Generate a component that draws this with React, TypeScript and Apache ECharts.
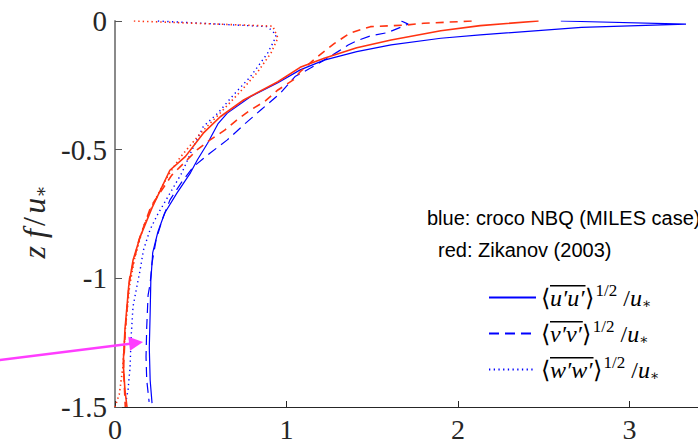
import React, { useEffect, useRef } from 'react';
import * as echarts from 'echarts';

// croco NBQ (blue)
const crocoUz = [0, -0.012, -0.025, -0.054, -0.067, -0.093, -0.119, -0.152, -0.19, -0.24, -0.294, -0.358, -0.4, -0.475, -0.54, -0.59, -0.67, -0.746, -0.82, -0.9, -0.94, -1.007, -1.135, -1.27, -1.395, -1.485];
const crocoU = [2.6, 3.33, 2.72, 2.13, 1.9, 1.61, 1.41, 1.22, 1.08, 0.95, 0.79, 0.655, 0.6, 0.54, 0.48, 0.44, 0.36, 0.29, 0.25, 0.22, 0.216, 0.209, 0.205, 0.2, 0.205, 0.216];
const crocoVz = [0, -0.012, -0.023, -0.045, -0.058, -0.077, -0.093, -0.119, -0.152, -0.183, -0.216, -0.28, -0.346, -0.404, -0.462, -0.513, -0.567, -0.625, -0.696, -0.773, -0.85, -0.94, -1.02, -1.065, -1.19, -1.305, -1.395, -1.48];
const crocoV = [1.67, 1.71, 1.67, 1.59, 1.49, 1.41, 1.36, 1.3, 1.22, 1.14, 1.05, 0.965, 0.85, 0.75, 0.655, 0.555, 0.456, 0.39, 0.32, 0.275, 0.24, 0.216, 0.205, 0.193, 0.185, 0.181, 0.185, 0.199];
const crocoWz = [0, -0.022, -0.054, -0.08, -0.125, -0.216, -0.288, -0.358, -0.41, -0.5, -0.59, -0.67, -0.75, -0.81, -0.89, -0.97, -1.03, -1.11, -1.228, -1.345, -1.434, -1.5];
const crocoW = [0.25, 0.89, 0.94, 0.925, 0.89, 0.79, 0.69, 0.6, 0.515, 0.45, 0.39, 0.32, 0.25, 0.205, 0.166, 0.146, 0.128, 0.105, 0.094, 0.088, 0.076, 0.058];

// Zikanov (2003) (red)
const zikUz = [0, -0.018, -0.038, -0.074, -0.104, -0.145, -0.18, -0.236, -0.307, -0.372, -0.436, -0.527, -0.58, -0.727, -0.84, -0.93, -1.03, -1.2, -1.33, -1.434, -1.5];
const zikU = [2.47, 2.13, 1.9, 1.61, 1.41, 1.22, 1.08, 0.95, 0.75, 0.614, 0.515, 0.41, 0.32, 0.215, 0.146, 0.105, 0.08, 0.058, 0.048, 0.058, 0.07];
const zikVz = [0, -0.009, -0.016, -0.022, -0.047, -0.087, -0.139, -0.197, -0.229, -0.268, -0.314, -0.346, -0.385, -0.424, -0.462, -0.5, -0.54, -0.6, -0.72, -0.85, -1.0, -1.2, -1.35, -1.5];
const zikV = [2.08, 1.8, 1.69, 1.49, 1.37, 1.28, 1.18, 1.08, 1.04, 0.95, 0.87, 0.79, 0.71, 0.64, 0.555, 0.48, 0.42, 0.33, 0.21, 0.14, 0.085, 0.06, 0.05, 0.06];
const zikWz = [0, -0.02, -0.066, -0.124, -0.2, -0.275, -0.36, -0.435, -0.53, -0.6, -0.7, -0.8, -0.92, -1.03, -1.2, -1.35, -1.45, -1.5];
const zikW = [0.11, 0.92, 0.95, 0.91, 0.83, 0.73, 0.61, 0.5, 0.38, 0.31, 0.23, 0.165, 0.115, 0.085, 0.06, 0.045, 0.025, 0.0];

// annotation arrow (data coordinates)
const arrowX = [-0.789, 0.123];
const arrowZ = [-1.327, -1.251];

const yMin = -1.5;
const yMax = 0;
const yStep = 0.5;
const xMin = 0;
const xMax = 3.4;
const xStep = 1;

const legendNames = ['u', 'v', 'w'];
const noteLines = ['blue: croco NBQ (MILES case)', 'red: Zikanov (2003)'];

const BLUE = '#0000ff';
const RED = '#ff3311';
const MATH = 'Liberation Serif';

const pairs = (xs: number[], zs: number[]) => xs.map((x, i) => [x, zs[i]]);
const PRIME = '\u2032';
const corr = (c: string) => c + PRIME + c + PRIME;

function measure(text: string, font: string): number {
  const cv = document.createElement('canvas');
  const ctx = cv.getContext('2d');
  if (!ctx) return text.length * 12;
  ctx.font = font;
  return ctx.measureText(text).width;
}

export default function App() {
  const ref = useRef<HTMLDivElement>(null);
  useEffect(() => {
    if (!ref.current) return;
    const chart = echarts.init(ref.current, undefined, { renderer: 'svg' });
    const lineS = (name: string, xs: number[], zs: number[], color: string, type: any, width: number) => ({
      name,
      type: 'line',
      data: pairs(xs, zs),
      showSymbol: false,
      symbol: 'none',
      clip: true,
      lineStyle: { color, width, type, cap: 'butt' },
      itemStyle: { color },
      emphasis: { disabled: true },
    });

    const legendLeft = 488;
    const legendIconW = 47;
    const rowCenters = [300, 336, 372];
    const rowH = 36;
    const textLeft = legendLeft + legendIconW + 5;
    const richLegend = {
      a: { fontFamily: MATH, fontSize: 24, color: '#000', lineHeight: rowH },
      i: { fontFamily: MATH, fontStyle: 'italic', fontSize: 24, color: '#000', lineHeight: rowH },
      s: { fontFamily: MATH, fontSize: 17, color: '#000', lineHeight: 20, padding: [0, 0, 14, 2] },
      b: { fontFamily: 'DejaVu Serif', fontSize: 14, color: '#000', lineHeight: 16, padding: [10, 0, 0, 0] },
    };
    const legends = legendNames.map((n, k) => ({
      data: [n],
      orient: 'vertical',
      left: legendLeft,
      top: rowCenters[k] - rowH / 2,
      padding: 0,
      itemGap: 0,
      itemWidth: legendIconW,
      itemHeight: 14,
      selectedMode: false,
      itemStyle: { opacity: 0 },
      formatter: (name: string) =>
        '{a|\u27E8}{i|' + corr(name) + '}{a|\u27E9}{s|1/2}{a| /}{i|u}{b|\u2217}',
      textStyle: { rich: richLegend },
    }));
    const wOpen = measure('\u27E8', `24px "${MATH}"`);
    const overlines = legendNames.map((n, k) => ({
      type: 'rect',
      silent: true,
      shape: {
        x: textLeft + wOpen + 1,
        y: rowCenters[k] - 15,
        width: measure(corr(n), `italic 24px "${MATH}"`) + 1,
        height: 1.6,
      },
      style: { fill: '#000' },
    }));

    chart.setOption({
      animation: false,
      backgroundColor: '#ffffff',
      grid: { left: 115, top: 21, bottom: 38, right: 0, containLabel: false, outerBoundsMode: 'none' },
      xAxis: {
        type: 'value',
        min: xMin,
        max: xMax,
        interval: xStep,
        splitLine: { show: false },
        axisLine: { onZero: false, lineStyle: { color: '#262626', width: 1 } },
        axisTick: { inside: true, length: 6, lineStyle: { color: '#262626' } },
        axisLabel: {
          color: '#262626', fontFamily: MATH, fontSize: 28, lineHeight: 26, margin: 9,
          showMaxLabel: false, hideOverlap: false,
        },
      },
      yAxis: {
        type: 'value',
        min: yMin,
        max: yMax,
        interval: yStep,
        splitLine: { show: false },
        axisLine: { onZero: false, lineStyle: { color: '#8a8a8a', width: 2 } },
        axisTick: { inside: true, length: 7, lineStyle: { color: '#555' } },
        axisLabel: { color: '#262626', fontFamily: MATH, fontSize: 29, margin: 8, hideOverlap: false },
        name: '{it|z f} {n|/} {it|u}{sub|\u2217}',
        nameLocation: 'middle',
        nameGap: 60,
        nameRotate: 90,
        nameTextStyle: {
          padding: [0, 16, 0, 0],
          rich: {
            it: { fontFamily: MATH, fontStyle: 'italic', fontSize: 32, color: '#262626' },
            n: { fontFamily: MATH, fontSize: 32, color: '#262626' },
            sub: { fontFamily: 'DejaVu Serif', fontSize: 18, color: '#262626', padding: [12, 0, 0, 0] },
          },
        },
      },
      legend: legends,
      graphic: [
        {
          type: 'text',
          left: 427,
          top: 208,
          style: { text: noteLines[0], font: '20px "Liberation Sans", Arial, sans-serif', fill: '#000' },
        },
        {
          type: 'text',
          left: 438,
          top: 240,
          style: { text: noteLines[1], font: '20px "Liberation Sans", Arial, sans-serif', fill: '#000' },
        },
        ...overlines,
      ],
      series: [
        lineS('u', crocoU, crocoUz, BLUE, 'solid', 1.2),
        lineS('v', crocoV, crocoVz, BLUE, [10, 6], 1.2),
        lineS('w', crocoW, crocoWz, BLUE, [1.3, 3.4], 1.4),
        lineS('Zikanov u', zikU, zikUz, RED, 'solid', 1.6),
        lineS('Zikanov v', zikV, zikVz, RED, [8, 6], 1.6),
        lineS('Zikanov w', zikW, zikWz, RED, [1.4, 3], 1.6),
        {
          type: 'lines',
          coordinateSystem: 'cartesian2d',
          clip: false,
          silent: true,
          z: 5,
          symbol: ['none', 'triangle'],
          symbolSize: 14,
          lineStyle: { color: '#ff3dff', width: 2.5, opacity: 1, curveness: 0 },
          data: [{ coords: [[arrowX[0], arrowZ[0]], [arrowX[1], arrowZ[1]]] }],
        },
      ],
    });
    return () => chart.dispose();
  }, []);
  return <div ref={ref} style={{ width: 698, height: 445, position: 'absolute', left: 0, top: 0 }} />;
}
